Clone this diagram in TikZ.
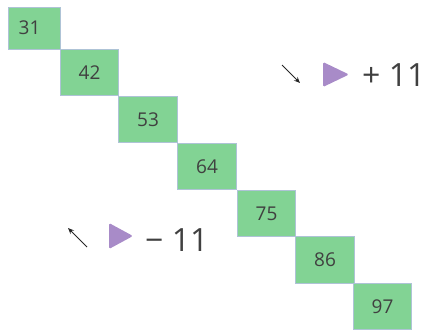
\documentclass[tikz,border=0pt]{standalone}
\usepackage{fontspec}
\setmainfont{Open Sans}
\usetikzlibrary{arrows.meta}
\definecolor{cellgreen}{HTML}{82D394}
\definecolor{cellborder}{HTML}{AEC3D6}
\definecolor{numgray}{HTML}{404040}
\definecolor{purp}{HTML}{A88BC8}
\tikzset{
  cell/.style={draw=cellborder, fill=cellgreen, line width=0.9pt, inner sep=0pt,
    minimum width=58.5pt, minimum height=46.6pt, text=numgray, font=\fontsize{19}{19}\selectfont},
  bigtext/.style={text=numgray, font=\fontsize{32}{32}\selectfont, inner sep=0pt},
  arr/.style={-{Stealth[length=6pt,width=5pt]}, line width=1pt, black!85},
  tri/.style={fill=purp, rounded corners=1.5pt}
}
\begin{document}
\begin{tikzpicture}[x=1pt,y=-1pt]
\useasboundingbox (0,0) rectangle (427,329);
% first cell
\node[cell, minimum width=52pt, minimum height=42pt] (c31) at (34,28) {};
\node[text=numgray, font=\fontsize{19}{19}\selectfont, inner sep=0pt] (t31) at (29.5,27.5) {31};
\node[cell] (c42) at (89.5,72.5) {42};
\node[cell] (c53) at (148,119.5) {53};
\node[cell] (c64) at (207,166.5) {64};
\node[cell] (c75) at (266.5,213.5) {75};
\node[cell] (c86) at (325,260) {86};
\node[cell] (c97) at (382.5,306.3) {97};
% +11 legend
\coordinate (a1s) at (282,65);
\coordinate (a1e) at (300,83);
\draw[arr] (a1s) -- (a1e);
\fill[tri] (323,62) -- (349,74.5) -- (323,87) -- cycle;
\node[bigtext, anchor=west] (plus) at (362,75) {+ 11};
% -11 legend
\coordinate (a2s) at (87,247);
\coordinate (a2e) at (68,228);
\draw[arr] (a2s) -- (a2e);
\fill[tri] (109,223) -- (133,236) -- (109,249) -- cycle;
\node[bigtext, anchor=west] (minus) at (145,240) {− 11};
\end{tikzpicture}
\end{document}
